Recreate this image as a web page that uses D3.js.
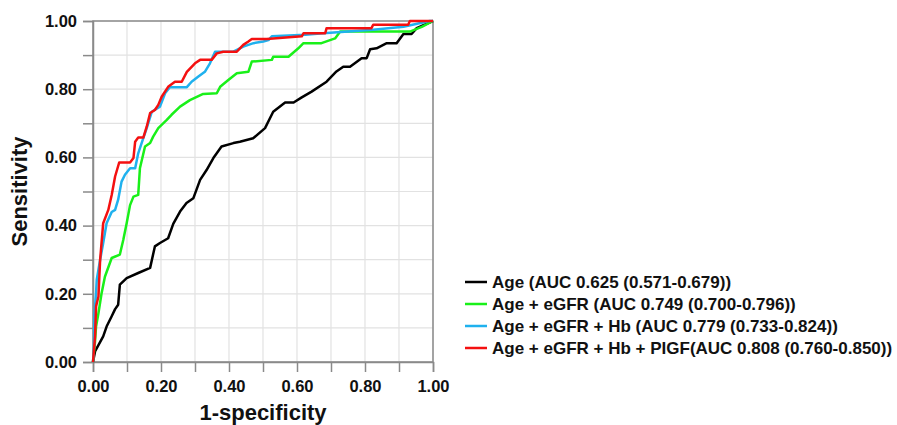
<!DOCTYPE html>
<html>
<head>
<meta charset="utf-8">
<script src="https://cdn.jsdelivr.net/npm/d3@7"></script>
<style>
  body { margin: 0; background: #fff; }
  svg { display: block; font-family: "Liberation Sans", Arial, sans-serif; }
</style>
</head>
<body>
<svg></svg>
<script>
const svgWidth = 897
const svgHeight = 425
const margins = { top: 21, left: 93, right: 464, bottom: 63 }
const plotWidth = svgWidth - margins.left - margins.right
const plotHeight = svgHeight - margins.top - margins.bottom

// tick values and labels
const tickValues = [0, 0.1, 0.2, 0.3, 0.4, 0.5, 0.6, 0.7, 0.8, 0.9, 1.0]
const tickLabels = ["0.00", "", "0.20", "", "0.40", "", "0.60", "", "0.80", "", "1.00"]

const seriesNames = [
  "Age (AUC 0.625 (0.571-0.679))",
  "Age + eGFR (AUC 0.749 (0.700-0.796))",
  "Age + eGFR + Hb (AUC 0.779 (0.733-0.824))",
  "Age + eGFR + Hb + PIGF(AUC 0.808 (0.760-0.850))"
]
const seriesColors = ["#000000", "#19f019", "#1fb1ee", "#f41010"]

// [1-specificity, sensitivity]
const ageRoc = [
  [0, 0], [0.006, 0.031], [0.03, 0.075], [0.04, 0.104], [0.055, 0.134], [0.065, 0.155],
  [0.074, 0.168], [0.079, 0.227], [0.099, 0.246], [0.133, 0.261], [0.168, 0.276],
  [0.182, 0.339], [0.197, 0.349], [0.221, 0.363], [0.236, 0.405], [0.256, 0.441],
  [0.275, 0.466], [0.295, 0.48], [0.315, 0.534], [0.334, 0.563], [0.354, 0.598],
  [0.378, 0.632], [0.413, 0.642], [0.432, 0.646], [0.471, 0.656], [0.506, 0.686],
  [0.53, 0.734], [0.565, 0.761], [0.59, 0.761], [0.614, 0.776], [0.643, 0.793],
  [0.687, 0.822], [0.716, 0.852], [0.736, 0.866], [0.756, 0.866], [0.79, 0.891],
  [0.805, 0.891], [0.815, 0.917], [0.834, 0.92], [0.864, 0.935], [0.893, 0.935],
  [0.913, 0.962], [0.937, 0.962], [0.952, 0.979], [0.972, 0.988], [1, 1]
]
const eGfrRoc = [
  [0, 0], [0.006, 0.06], [0.009, 0.104], [0.016, 0.143], [0.025, 0.2], [0.035, 0.25],
  [0.055, 0.305], [0.079, 0.315], [0.089, 0.358], [0.099, 0.407], [0.109, 0.46],
  [0.119, 0.485], [0.133, 0.49], [0.138, 0.568], [0.153, 0.632], [0.168, 0.642],
  [0.177, 0.661], [0.192, 0.686], [0.217, 0.71], [0.231, 0.725], [0.256, 0.749],
  [0.285, 0.768], [0.324, 0.786], [0.364, 0.788], [0.374, 0.807], [0.398, 0.827],
  [0.423, 0.847], [0.457, 0.851], [0.467, 0.881], [0.526, 0.886], [0.53, 0.895],
  [0.575, 0.895], [0.604, 0.92], [0.619, 0.935], [0.672, 0.935], [0.712, 0.949],
  [0.727, 0.969], [0.932, 0.969], [0.967, 0.983], [1, 1]
]
const hbRoc = [
  [0, 0], [0.003, 0.045], [0.004, 0.138], [0.009, 0.202], [0.011, 0.241], [0.021, 0.3],
  [0.03, 0.349], [0.04, 0.407], [0.055, 0.44], [0.065, 0.446], [0.074, 0.476],
  [0.084, 0.529], [0.094, 0.549], [0.109, 0.568], [0.124, 0.568], [0.133, 0.612],
  [0.143, 0.642], [0.158, 0.686], [0.173, 0.734], [0.197, 0.749], [0.212, 0.788],
  [0.226, 0.806], [0.276, 0.806], [0.29, 0.822], [0.31, 0.837], [0.329, 0.851],
  [0.344, 0.876], [0.359, 0.91], [0.413, 0.91], [0.442, 0.925], [0.472, 0.935],
  [0.501, 0.94], [0.516, 0.944], [0.526, 0.955], [0.624, 0.96], [0.677, 0.964],
  [0.824, 0.974], [0.913, 0.983], [0.99, 1], [1, 1]
]
const pigfRoc = [
  [0, 0], [0.006, 0.075], [0.009, 0.163], [0.016, 0.192], [0.021, 0.3], [0.03, 0.407],
  [0.045, 0.446], [0.055, 0.49], [0.065, 0.544], [0.077, 0.585], [0.109, 0.585],
  [0.119, 0.598], [0.124, 0.646], [0.133, 0.658], [0.148, 0.658], [0.158, 0.69],
  [0.168, 0.73], [0.182, 0.739], [0.192, 0.754], [0.202, 0.778], [0.221, 0.807],
  [0.241, 0.822], [0.261, 0.822], [0.276, 0.851], [0.3, 0.876], [0.315, 0.886],
  [0.349, 0.886], [0.364, 0.905], [0.383, 0.91], [0.423, 0.91], [0.442, 0.93],
  [0.457, 0.94], [0.467, 0.947], [0.511, 0.947], [0.614, 0.955], [0.619, 0.964],
  [0.683, 0.964], [0.687, 0.979], [0.819, 0.979], [0.824, 0.989], [0.927, 0.989],
  [0.932, 1], [1, 1]
]
const curves = [ageRoc, eGfrRoc, hbRoc, pigfRoc]

const svg = d3.select("svg")
  .attr("width", svgWidth)
  .attr("height", svgHeight)

const xScale = d3.scaleLinear().domain([0, 1]).range([margins.left, margins.left + plotWidth])
const yScale = d3.scaleLinear().domain([0, 1]).range([margins.top + plotHeight, margins.top])

// grid
svg.append("g")
  .selectAll("line.vgrid")
  .data(tickValues)
  .join("line")
  .attr("x1", d => xScale(d)).attr("x2", d => xScale(d))
  .attr("y1", yScale(0)).attr("y2", yScale(1))
  .attr("stroke", "#e2e2e2").attr("stroke-width", 1.2)
svg.append("g")
  .selectAll("line.hgrid")
  .data(tickValues)
  .join("line")
  .attr("x1", xScale(0)).attr("x2", xScale(1))
  .attr("y1", d => yScale(d)).attr("y2", d => yScale(d))
  .attr("stroke", "#e2e2e2").attr("stroke-width", 1.2)

// frame
svg.append("rect")
  .attr("x", xScale(0)).attr("y", yScale(1))
  .attr("width", plotWidth).attr("height", plotHeight)
  .attr("fill", "none").attr("stroke", "#8a8a8a").attr("stroke-width", 1.5)

const fmt = d => tickLabels[tickValues.indexOf(d)]

const xAxis = svg.append("g")
  .attr("transform", `translate(0,${yScale(0)})`)
  .call(d3.axisBottom(xScale).tickValues(tickValues).tickFormat(fmt).tickSize(10).tickPadding(8))
const yAxis = svg.append("g")
  .attr("transform", `translate(${xScale(0)},0)`)
  .call(d3.axisLeft(yScale).tickValues(tickValues).tickFormat(fmt).tickSize(10).tickPadding(6))

;[xAxis, yAxis].forEach(ax => {
  ax.select(".domain").attr("stroke", "#8a8a8a").attr("stroke-width", 1.5)
  ax.selectAll(".tick line").attr("stroke", "#8a8a8a").attr("stroke-width", 1.5)
  ax.selectAll(".tick text")
    .attr("font-family", "Liberation Sans, Arial, sans-serif")
    .attr("font-size", 16.5).attr("font-weight", "bold").attr("fill", "#111")
})

// curves
const line = d3.line().x(d => xScale(d[0])).y(d => yScale(d[1]))
curves.forEach((c, i) => {
  svg.append("path")
    .datum(c)
    .attr("d", line)
    .attr("fill", "none")
    .attr("stroke", seriesColors[i])
    .attr("stroke-width", 2.5)
    .attr("stroke-linejoin", "round")
})

// axis titles
svg.append("text")
  .text("1-specificity")
  .attr("x", xScale(0.5)).attr("y", 419.5)
  .attr("text-anchor", "middle")
  .attr("font-size", 22).attr("font-weight", "bold").attr("fill", "#111")
svg.append("text")
  .text("Sensitivity")
  .attr("transform", `translate(27,${yScale(0.5)}) rotate(-90)`)
  .attr("text-anchor", "middle")
  .attr("font-size", 22).attr("font-weight", "bold").attr("fill", "#111")

// legend
const legend = svg.append("g").attr("transform", "translate(465,282)")
seriesNames.forEach((name, i) => {
  const row = legend.append("g").attr("transform", `translate(0,${i * 22})`)
  row.append("line")
    .attr("x1", 0).attr("x2", 22)
    .attr("stroke", seriesColors[i]).attr("stroke-width", 2.5)
  row.append("text")
    .text(name)
    .attr("x", 27).attr("y", 6)
    .attr("font-size", 17).attr("font-weight", "bold").attr("fill", "#111")
})
</script>
</body>
</html>
